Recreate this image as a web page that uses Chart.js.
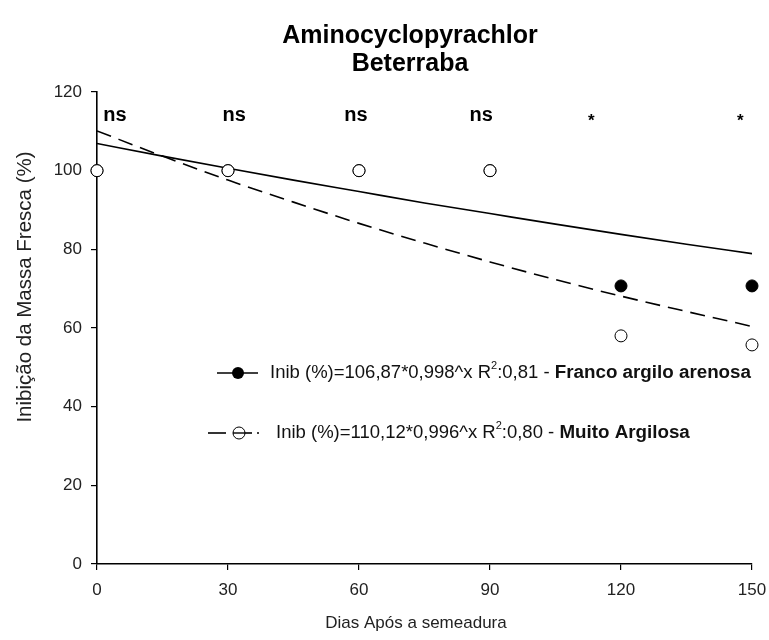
<!DOCTYPE html>
<html><head><meta charset="utf-8">
<script src="https://cdn.jsdelivr.net/npm/chart.js@4/dist/chart.umd.min.js"></script>
<style>html,body{margin:0;padding:0;background:#fff}#wrap{width:769px;height:640px}</style>
</head><body><div id="wrap"><canvas id="c" width="769" height="640"></canvas></div>
<script>
// ---- data ----
const days = [0, 30, 60, 90, 120, 150];
const francoObs = [100, 100, 100, 100, 70.7, 70.7];
const muitoObs = [100, 100, 100, 100, 58, 55.7];
const fitDays = [0, 15, 30, 45, 60, 75, 90, 105, 120, 135, 150];
const francoFit = [106.9, 103.7, 100.6, 97.6, 94.7, 91.8, 89.1, 86.4, 83.8, 81.3, 78.9];
const muitoFit = [110.1, 103.7, 97.6, 92.0, 86.6, 81.6, 76.8, 72.3, 68.1, 64.2, 60.4];
const sigLabels = ['ns', 'ns', 'ns', 'ns', '*', '*'];
const sigX = [4.1, 31.4, 59.3, 88.0, 113.2, 147.3];
const xTicks = [0, 30, 60, 90, 120, 150];
const yTicks = [0, 20, 40, 60, 80, 100, 120];
const titleLines = ['Aminocyclopyrachlor', 'Beterraba'];
const xTitle = 'Dias Após a semeadura';
const yTitle = 'Inibição da Massa Fresca (%)';
const legend1 = {pre: 'Inib (%)=106,87*0,998^x R', sup: '2', post: ':0,81 - ', bold: 'Franco argilo arenosa'};
const legend2 = {pre: 'Inib (%)=110,12*0,996^x R', sup: '2', post: ':0,80 - ', bold: 'Muito Argilosa'};

const FONT = '"Liberation Sans", Arial, sans-serif';
const pts = (xs, ys) => xs.map((x, i) => ({x, y: ys[i]}));

const textPlugin = {
  id: 'texts',
  afterDraw(chart) {
    const ctx = chart.ctx, xs = chart.scales.x, ys = chart.scales.y;
    ctx.save();
    ctx.fillStyle = '#000';
    // title
    ctx.font = 'bold 25px ' + FONT;
    ctx.textAlign = 'center'; ctx.textBaseline = 'middle';
    ctx.fillText(titleLines[0], 410, 36);
    ctx.fillText(titleLines[1], 410, 64);
    // axis titles
    ctx.fillStyle = '#222';
    ctx.font = '17px ' + FONT;
    ctx.fillText(xTitle, 416, 623);
    ctx.save();
    ctx.translate(25, 287);
    ctx.rotate(-Math.PI / 2);
    ctx.font = '20.5px ' + FONT;
    ctx.fillText(yTitle, 0, 0);
    ctx.restore();
    // significance labels
    ctx.fillStyle = '#000';
    sigLabels.forEach((s, i) => {
      const px = xs.getPixelForValue(sigX[i]);
      if (s === '*') { ctx.font = 'bold 17px ' + FONT; ctx.fillText(s, px, ys.getPixelForValue(113) + 2); }
      else { ctx.font = 'bold 20px ' + FONT; ctx.fillText(s, px, ys.getPixelForValue(114)); }
    });
    // legend
    const drawText = (e, x, y) => {
      ctx.fillStyle = '#111'; ctx.textAlign = 'left'; ctx.textBaseline = 'middle';
      ctx.font = '18.5px ' + FONT;
      ctx.fillText(e.pre, x, y); x += ctx.measureText(e.pre).width;
      ctx.font = '11px ' + FONT;
      ctx.fillText(e.sup, x, y - 7); x += ctx.measureText(e.sup).width;
      ctx.font = '18.5px ' + FONT;
      ctx.fillText(e.post, x, y); x += ctx.measureText(e.post).width;
      ctx.font = 'bold 18.8px ' + FONT;
      ctx.fillText(e.bold, x, y);
    };
    const seg = (a, b, y) => { ctx.beginPath(); ctx.moveTo(a, y); ctx.lineTo(b, y); ctx.stroke(); };
    ctx.strokeStyle = '#000'; ctx.lineWidth = 1.6;
    // entry 1 (solid, filled)
    seg(217, 258, 373);
    ctx.beginPath(); ctx.arc(238, 373, 6, 0, Math.PI * 2); ctx.fillStyle = '#000'; ctx.fill();
    drawText(legend1, 270, 373);
    // entry 2 (dashed, open)
    ctx.strokeStyle = '#000'; ctx.lineWidth = 1.6;
    seg(208, 226, 433); seg(233, 252, 433); seg(257, 259, 433);
    ctx.beginPath(); ctx.arc(239, 433, 6, 0, Math.PI * 2); ctx.fillStyle = '#fff'; ctx.fill();
    ctx.lineWidth = 1; ctx.stroke();
    ctx.lineWidth = 1.4; seg(233, 245, 433);
    drawText(legend2, 276, 433);
    ctx.restore();
  }
};

new Chart(document.getElementById('c'), {
  type: 'scatter',
  data: {
    datasets: [
      {label: 'Muito Argilosa', data: pts(days, muitoObs), order: 0, clip: false,
       pointRadius: 6, pointBackgroundColor: '#fff', pointBorderColor: '#000', pointBorderWidth: 1, showLine: false},
      {label: 'Franco argilo arenosa', data: pts(days, francoObs), order: 1, clip: false,
       pointRadius: 6, pointBackgroundColor: '#000', pointBorderColor: '#000', pointBorderWidth: 1, showLine: false},
      {label: 'fit Franco', data: pts(fitDays, francoFit), order: 2, showLine: true, pointRadius: 0,
       borderColor: '#000', borderWidth: 1.6, cubicInterpolationMode: 'monotone'},
      {label: 'fit Muito', data: pts(fitDays, muitoFit), order: 3, showLine: true, pointRadius: 0,
       borderColor: '#000', borderWidth: 1.6, borderDash: [15, 8], cubicInterpolationMode: 'monotone'}
    ]
  },
  options: {
    responsive: false, animation: false,
    layout: {padding: {left: 0, right: 17, top: 92, bottom: 0}},
    plugins: {legend: {display: false}, tooltip: {enabled: false}, title: {display: false}},
    scales: {
      x: {type: 'linear', min: 0, max: 150,
        afterBuildTicks: s => { s.ticks = xTicks.map(v => ({value: v})); },
        afterFit: s => { s.height = 76; s.paddingLeft = 0; s.paddingRight = 0; },
        grid: {display: true, drawOnChartArea: false, drawTicks: true, tickLength: 6, color: '#000', lineWidth: 1.2},
        border: {display: true, color: '#000', width: 1.6},
        ticks: {color: '#222', font: {family: FONT, size: 17}, padding: 10, maxRotation: 0}
      },
      y: {type: 'linear', min: 0, max: 120,
        afterBuildTicks: s => { s.ticks = yTicks.map(v => ({value: v})); },
        afterFit: s => { s.width = 97; s.paddingTop = 0; s.paddingBottom = 0; },
        grid: {display: true, drawOnChartArea: false, drawTicks: true, tickLength: 6, color: '#000', lineWidth: 1.2},
        border: {display: true, color: '#000', width: 1.6},
        ticks: {color: '#222', font: {family: FONT, size: 17}, padding: 9}
      }
    }
  },
  plugins: [textPlugin]
});
</script></body></html>
